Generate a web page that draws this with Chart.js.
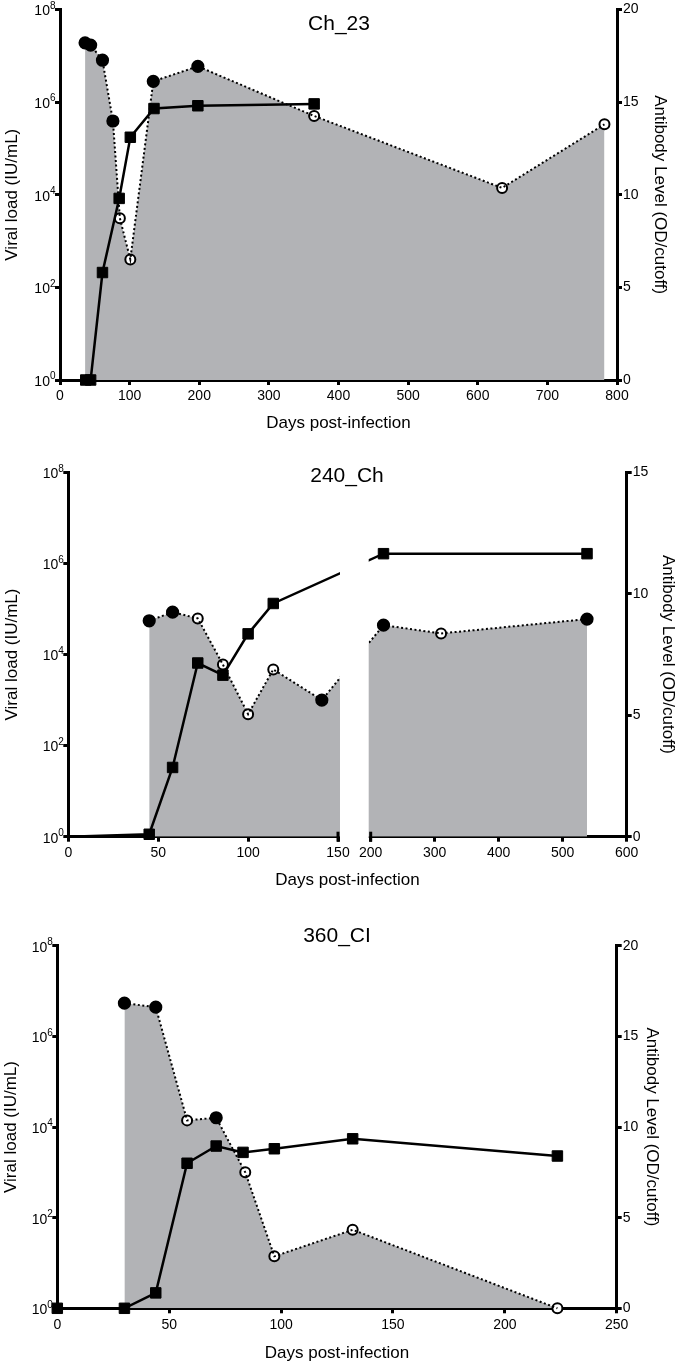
<!DOCTYPE html>
<html>
<head>
<meta charset="utf-8">
<script src="https://cdn.jsdelivr.net/npm/chart.js@4.4.1/dist/chart.umd.min.js"></script>
<style>
  body { margin: 0; background: #fff; }
  #wrap { position: relative; width: 680px; height: 1364px; }
  canvas { position: absolute; left: 0; }
</style>
</head>
<body>
<div id="wrap">
  <canvas id="c1" width="680" height="440" style="top:0"></canvas>
  <canvas id="c2" width="680" height="460" style="top:440px"></canvas>
  <canvas id="c3" width="680" height="464" style="top:900px"></canvas>
</div>
<script>
// Ch_23: viral load (circles, filled = detected) and antibody (squares)
const chDays = [36, 44, 61, 76, 86, 101, 134, 198, 365, 635, 782];
const chViral = [1.9e7, 1.7e7, 8e6, 3.9e5, 3.1e3, 4e2, 2.8e6, 5.9e6, 5e5, 1.4e4, 3.3e5];
const chFilled = [1, 1, 1, 1, 0, 0, 1, 1, 0, 0, 0];
const chAbDays = [37, 44, 61, 85, 101, 135, 198, 365];
const chAb = [0, 0, 5.8, 9.8, 13.1, 14.65, 14.8, 14.9];
const chTicks = [0, 100, 200, 300, 400, 500, 600, 700, 800];

// 240_Ch
const p240Days = [45, 58, 72, 86, 100, 114, 141, 220, 310, 538];
const p240Viral = [5.5e4, 8.5e4, 6.2e4, 6e3, 4.9e2, 4.7e3, 1.0e3, 4.4e4, 2.9e4, 6e4];
const p240Filled = [1, 1, 0, 0, 0, 0, 1, 1, 0, 1];
const p240AbDays = [0, 45, 58, 72, 86, 100, 114, 220, 538];
const p240Ab = [0, 0.1, 2.85, 7.15, 6.65, 8.35, 9.6, 11.65, 11.65];
const p240Ticks = [0, 50, 100, 150, 200, 300, 400, 500, 600];

// 360_CI
const p360Days = [30, 44, 58, 71, 84, 97, 132, 223.5];
const p360Viral = [5.4e6, 4.4e6, 1.4e4, 1.6e4, 1.0e3, 14, 54, 1];
const p360Filled = [1, 1, 0, 1, 0, 0, 0, 0];
const p360AbDays = [0, 30, 44, 58, 71, 83, 97, 132, 223.5];
const p360Ab = [0, 0, 0.85, 8.0, 8.95, 8.6, 8.8, 9.35, 8.4];
const p360Ticks = [0, 50, 100, 150, 200, 250];

const logTicks = [1, 1e2, 1e4, 1e6, 1e8];

const FONT = '"Liberation Sans", Arial, Helvetica, sans-serif';
const GREY = '#b2b3b6';

Chart.defaults.font.family = FONT;
Chart.defaults.color = '#000';

// 240_Ch uses a broken x axis: 0-150, a gap, then 200-600
const SEG1 = 269.7, GAP = 32.7, SEG2 = 256;
function brk(d) {
    return d <= 175 ? d * SEG1 / 150 : SEG1 + GAP + (d - 200) * SEG2 / 400;
}

const panelTitle = {
    id: 'panelTitle',
    afterDraw(chart, args, opts) {
        const ctx = chart.ctx;
        ctx.save();
        ctx.font = '21px ' + FONT;
        ctx.fillStyle = '#000';
        ctx.textAlign = 'center';
        ctx.textBaseline = 'middle';
        ctx.fillText(opts.text, opts.x, opts.y);
        ctx.restore();
    }
};

// "10" with a raised exponent for the log axis
const logLabels = {
    id: 'logLabels',
    afterDraw(chart) {
        const s = chart.scales.y;
        const ctx = chart.ctx;
        ctx.save();
        ctx.fillStyle = '#000';
        ctx.textBaseline = 'middle';
        ctx.textAlign = 'right';
        logTicks.forEach(v => {
            const y = s.getPixelForValue(v);
            const exp = String(Math.round(Math.log10(v)));
            const right = s.right - 4.5;
            ctx.font = '10px ' + FONT;
            const ew = ctx.measureText(exp).width;
            ctx.fillText(exp, right, y - 3.5);
            ctx.font = '14px ' + FONT;
            ctx.fillText('10', right - ew, y + 2);
        });
        ctx.restore();
    }
};

// white out the gap of the broken axis and cap both ends
const axisBreak = {
    id: 'axisBreak',
    afterDraw(chart) {
        const { ctx, chartArea, scales } = chart;
        const xa = scales.x.getPixelForValue(brk(150));
        const xb = scales.x.getPixelForValue(brk(200));
        ctx.save();
        ctx.fillStyle = '#fff';
        ctx.fillRect(xa + 2, chartArea.top, xb - xa - 4, chartArea.bottom - chartArea.top + 4);
        ctx.strokeStyle = '#000';
        ctx.lineWidth = 3;
        [xa, xb].forEach(x => {
            ctx.beginPath();
            ctx.moveTo(x, chartArea.bottom - 5);
            ctx.lineTo(x, chartArea.bottom + 5);
            ctx.stroke();
        });
        ctx.restore();
    }
};

function axisStyle() {
    return {
        grid: { display: true, drawOnChartArea: false, drawTicks: true, tickLength: 5, tickWidth: 3, lineWidth: 3, tickColor: '#000', color: '#000' },
        border: { display: true, color: '#000', width: 3 }
    };
}

function drawPanel(id, p) {
    const canvas = document.getElementById(id);
    const W = canvas.width, H = canvas.height;
    const xf = p.xf || (d => d);
    const vPts = p.days.map((d, i) => ({ x: xf(d), y: p.viral[i] }));
    const aPts = p.abDays.map((d, i) => ({ x: xf(d), y: p.ab[i] }));

    const plugins = [logLabels];
    if (p.broken) plugins.push(axisBreak);
    plugins.push(panelTitle);

    new Chart(canvas, {
        type: 'line',
        data: {
            datasets: [
                {
                    data: aPts, yAxisID: 'y1', clip: false,
                    borderColor: '#000', borderWidth: 2.5, fill: false,
                    pointStyle: 'rect',
                    pointRadius: aPts.map((pt, i) => (p.hideFirstAb && i === 0) ? 0 : 7.4),
                    pointBackgroundColor: '#000', pointBorderColor: '#000', pointBorderWidth: 1
                },
                {
                    data: vPts, yAxisID: 'y', clip: false,
                    borderColor: '#000', borderWidth: 2, borderDash: [2, 2.5],
                    pointRadius: 0, fill: false
                },
                {
                    data: vPts, yAxisID: 'y', clip: false,
                    borderColor: 'rgba(0,0,0,0)', borderWidth: 0,
                    backgroundColor: GREY, fill: 'start',
                    pointRadius: p.filled.map(f => f ? 5.6 : 5),
                    pointBorderWidth: 2, pointBorderColor: '#000',
                    pointBackgroundColor: p.filled.map(f => f ? '#000' : '#fff')
                }
            ]
        },
        options: {
            responsive: false,
            devicePixelRatio: 1,
            animation: false,
            events: [],
            layout: { padding: { top: p.plotTop, left: 0, right: 0, bottom: 0 } },
            plugins: {
                legend: { display: false },
                tooltip: { enabled: false },
                panelTitle: { text: p.title, x: p.titleX, y: p.titleY }
            },
            scales: {
                x: {
                    type: 'linear', min: xf(p.xTicks[0]), max: xf(p.xTicks[p.xTicks.length - 1]),
                    afterFit: s => { s.height = H - p.plotBottom; },
                    afterBuildTicks: s => { s.ticks = p.xTicks.map(v => ({ value: xf(v) })); },
                    ticks: { autoSkip: false, maxRotation: 0, padding: 3, font: { size: 14 }, callback: (v, i) => p.xTicks[i] },
                    title: { display: true, text: 'Days post-infection', font: { size: 17 }, padding: { top: 0, bottom: p.xTitlePad } },
                    ...axisStyle()
                },
                y: {
                    type: 'logarithmic', position: 'left', min: 1, max: 1e8,
                    afterFit: s => { s.width = p.plotLeft; },
                    afterBuildTicks: s => { s.ticks = logTicks.map(v => ({ value: v })); },
                    ticks: { display: false },
                    title: { display: true, text: 'Viral load (IU/mL)', font: { size: 17 }, padding: { top: p.leftTitlePad, bottom: 0 } },
                    ...axisStyle()
                },
                y1: {
                    type: 'linear', position: 'right', min: 0, max: p.abMax,
                    afterFit: s => { s.width = W - p.plotRight; },
                    ticks: { stepSize: 5, padding: 1, font: { size: 14 } },
                    title: { display: true, text: 'Antibody Level (OD/cutoff)', font: { size: 17 }, padding: { top: p.rightTitlePad, bottom: 0 } },
                    ...axisStyle()
                }
            }
        },
        plugins: plugins
    });
}

drawPanel('c1', {
    title: 'Ch_23', titleX: 339, titleY: 24,
    days: chDays, viral: chViral, filled: chFilled, abDays: chAbDays, ab: chAb,
    xTicks: chTicks, abMax: 20,
    plotLeft: 60, plotRight: 617, plotTop: 9, plotBottom: 380,
    xTitlePad: 6.8, leftTitlePad: 1.8, rightTitlePad: 9.8
});

drawPanel('c2', {
    title: '240_Ch', titleX: 347, titleY: 36.5,
    days: p240Days, viral: p240Viral, filled: p240Filled, abDays: p240AbDays, ab: p240Ab,
    xTicks: p240Ticks, abMax: 15, xf: brk, broken: true, hideFirstAb: true,
    plotLeft: 68.3, plotRight: 626.7, plotTop: 32.3, plotBottom: 396.7,
    xTitlePad: 9.8, leftTitlePad: 1.8, rightTitlePad: 1.8
});

drawPanel('c3', {
    title: '360_CI', titleX: 337, titleY: 36.5,
    days: p360Days, viral: p360Viral, filled: p360Filled, abDays: p360AbDays, ab: p360Ab,
    xTicks: p360Ticks, abMax: 20,
    plotLeft: 57.3, plotRight: 616.7, plotTop: 45.7, plotBottom: 408.3,
    xTitlePad: 0.8, leftTitlePad: 0.8, rightTitlePad: 18.1
});
</script>
</body>
</html>
